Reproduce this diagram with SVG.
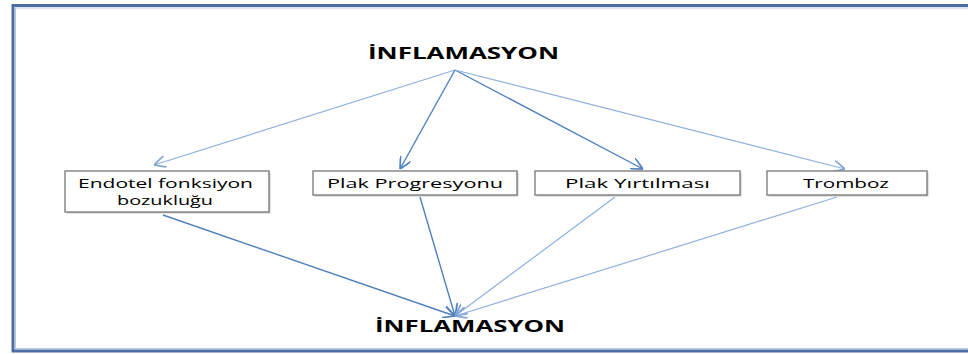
<svg xmlns="http://www.w3.org/2000/svg" width="968" height="354" viewBox="0 0 968 354">
<defs>
<marker id="ah" markerWidth="12" markerHeight="12" refX="10" refY="5" orient="auto" markerUnits="userSpaceOnUse" viewBox="0 0 10 10">
<path d="M0,0 L10,5 L0,10" fill="none" stroke="#4f81bd" stroke-width="1.4"/>
</marker>
<marker id="ahl" markerWidth="12" markerHeight="12" refX="10" refY="5" orient="auto" markerUnits="userSpaceOnUse" viewBox="0 0 10 10">
<path d="M0,0 L10,5 L0,10" fill="none" stroke="#7fa3d3" stroke-width="1.4"/>
</marker>
</defs>
<style>
.frame{fill:none;stroke:#4a6ea4;stroke-width:3}
.frame2{fill:none;stroke:#b9c8dc;stroke-width:1}
.box{fill:#ffffff;stroke:#808080;stroke-width:1.4}
.shadow{fill:#c8c8c8}
.title{font-family:"Open Sans","Liberation Sans",sans-serif;font-weight:bold;font-size:16px;fill:#000}
.lbl{font-family:"Open Sans","Liberation Sans",sans-serif;font-size:13px;fill:#000}
.c{fill:none;stroke:#4f81bd;stroke-width:1.4}
.cl{fill:none;stroke:#8fb0db;stroke-width:1.2}
</style>
<rect x="0" y="0" width="968" height="354" fill="#ffffff"/>
<rect class="frame" x="13" y="5.5" width="970" height="345.5"/>
<rect class="frame2" x="15.5" y="8" width="970" height="340.5"/>

<g id="top">
<text class="title" x="368" y="59" textLength="191" lengthAdjust="spacingAndGlyphs">İNFLAMASYON</text>
</g>

<g id="connectors">
<line class="cl" x1="455" y1="70" x2="154" y2="165" marker-end="url(#ahl)"/>
<line class="c" x1="455" y1="70" x2="400" y2="169" marker-end="url(#ah)"/>
<line class="c" x1="455" y1="70" x2="643" y2="169" marker-end="url(#ah)"/>
<line class="cl" x1="455" y1="70" x2="845" y2="169" marker-end="url(#ahl)"/>
<line class="c" x1="163" y1="215" x2="455" y2="316" marker-end="url(#ah)"/>
<line class="c" x1="420" y1="197" x2="455" y2="316" marker-end="url(#ah)"/>
<line class="cl" x1="615" y1="197" x2="455" y2="316" marker-end="url(#ahl)"/>
<line class="cl" x1="837" y1="197" x2="455" y2="316" marker-end="url(#ahl)"/>
</g>

<g id="box1">
<rect class="shadow" x="66.5" y="172.5" width="204" height="41"/>
<rect class="box" x="65" y="171" width="204" height="41"/>
<text class="lbl" x="78" y="188" textLength="175" lengthAdjust="spacingAndGlyphs">Endotel fonksiyon</text>
<text class="lbl" x="117" y="205" textLength="96" lengthAdjust="spacingAndGlyphs">bozukluğu</text>
</g>

<g id="box2">
<rect class="shadow" x="314.5" y="172.5" width="204" height="24"/>
<rect class="box" x="313" y="171" width="204" height="24"/>
<text class="lbl" x="327" y="188" textLength="176" lengthAdjust="spacingAndGlyphs">Plak Progresyonu</text>
</g>

<g id="box3">
<rect class="shadow" x="536.5" y="172.5" width="205" height="24"/>
<rect class="box" x="535" y="171" width="205" height="24"/>
<text class="lbl" x="565" y="188" textLength="145" lengthAdjust="spacingAndGlyphs">Plak Yırtılması</text>
</g>

<g id="box4">
<rect class="shadow" x="768.5" y="172.5" width="160" height="24"/>
<rect class="box" x="767" y="171" width="160" height="24"/>
<text class="lbl" x="803" y="188" textLength="86" lengthAdjust="spacingAndGlyphs">Tromboz</text>
</g>

<g id="bottom">
<text class="title" x="375" y="332" textLength="190" lengthAdjust="spacingAndGlyphs">İNFLAMASYON</text>
</g>
</svg>
